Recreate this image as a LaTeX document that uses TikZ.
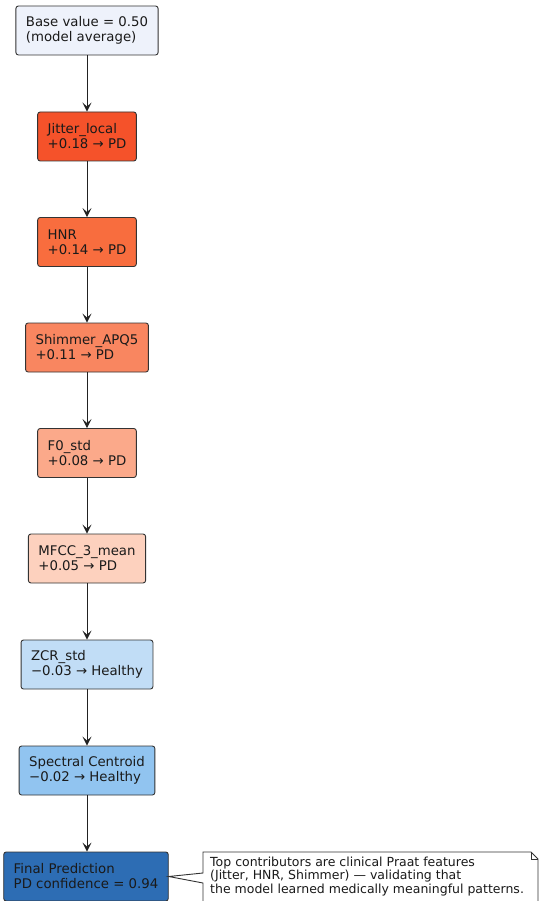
\documentclass[tikz,border=0pt]{standalone}
\usepackage{fontspec}
\setmainfont{DejaVu Sans}
\usetikzlibrary{arrows.meta}

\definecolor{edge}{HTML}{333333}
\definecolor{arrowink}{HTML}{222222}
\definecolor{ink}{HTML}{1A1A1A}
\definecolor{cbase}{HTML}{EEF2FB}
\definecolor{cjitter}{HTML}{F5522A}
\definecolor{chnr}{HTML}{F86D3E}
\definecolor{cshimmer}{HTML}{F98660}
\definecolor{cfzero}{HTML}{FBA98A}
\definecolor{cmfcc}{HTML}{FDD1BE}
\definecolor{czcr}{HTML}{C1DDF6}
\definecolor{cspectral}{HTML}{91C4F0}
\definecolor{cfinal}{HTML}{2D6DB4}

\begin{document}
\begin{tikzpicture}[x=1pt,y=-1pt,
  stepbox/.style={draw=edge, line width=0.9pt, rounded corners=2.5pt,
    minimum height=49pt, inner xsep=10pt, align=left, text=ink,
    font=\fontsize{13.3}{15}\selectfont},
  flow/.style={draw=arrowink, line width=1pt,
    -{Stealth[length=9pt,width=9pt,inset=4pt]}},
  notebox/.style={draw=edge, fill=white, line width=0.9pt},
  notetext/.style={anchor=north west, align=left, inner sep=0pt, text=ink,
    font=\fontsize{12.5}{13.6}\selectfont}]
\useasboundingbox (0,0) rectangle (541,901);
\clip (0,0) rectangle (541,901);

% contribution chain
\node[stepbox, fill=cbase]     (base)     at (87,30.5)  {Base value = 0.50\\(model average)};
\node[stepbox, fill=cjitter]   (jitter)   at (87,136.5) {Jitter\_local\\+0.18 → PD};
\node[stepbox, fill=chnr]      (hnr)      at (87,242)   {HNR\\+0.14 → PD};
\node[stepbox, fill=cshimmer]  (shimmer)  at (87,347.5) {Shimmer\_APQ5\\+0.11 → PD};
\node[stepbox, fill=cfzero]    (fzero)    at (87,453)   {F0\_std\\+0.08 → PD};
\node[stepbox, fill=cmfcc]     (mfcc)     at (87,558.5) {MFCC\_3\_mean\\+0.05 → PD};
\node[stepbox, fill=czcr]      (zcr)      at (87,664.5) {ZCR\_std\\−0.03 → Healthy};
\node[stepbox, fill=cspectral] (spectral) at (87,770.5) {Spectral Centroid\\−0.02 → Healthy};
\node[stepbox, fill=cfinal]    (final)    at (86,876.5) {Final Prediction\\PD confidence = 0.94};

\draw[flow] (base.south)     -- (jitter.north);
\draw[flow] (jitter.south)   -- (hnr.north);
\draw[flow] (hnr.south)      -- (shimmer.north);
\draw[flow] (shimmer.south)  -- (fzero.north);
\draw[flow] (fzero.south)    -- (mfcc.north);
\draw[flow] (mfcc.south)     -- (zcr.north);
\draw[flow] (zcr.south)      -- (spectral.north);
\draw[flow] (spectral.south) -- (spectral.south |- final.north);

% annotation with folded corner, pointing at the final prediction
\draw[notebox] (203,852) -- (531,852) -- (538,859) -- (538,912) -- (203,912)
  -- (203,883) -- (final.east) -- (203,873) -- cycle;
\draw[draw=edge, line width=0.9pt] (531,852) -- (531,859) -- (538,859);
\node[notetext] (remark) at (210,856.5)
  {Top contributors are clinical Praat features\\(Jitter, HNR, Shimmer) — validating that\\the model learned medically meaningful patterns.};
\end{tikzpicture}
\end{document}
